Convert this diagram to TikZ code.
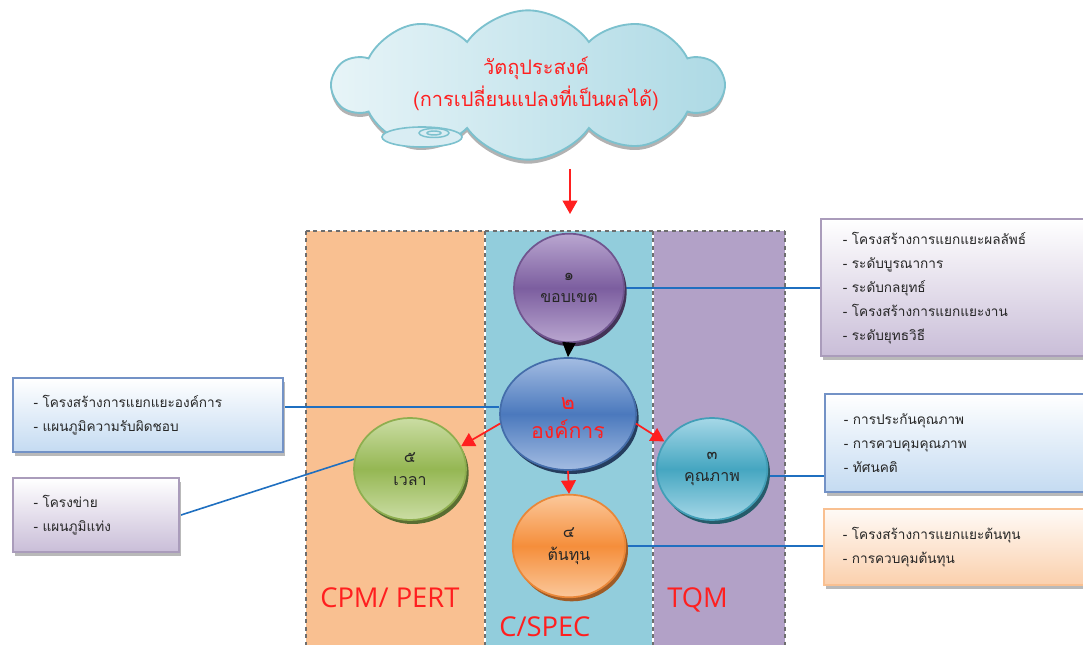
\documentclass[tikz,border=0pt]{standalone}
\usepackage{fontspec}
\setmainfont{Open Sans}
\newfontfamily\thai[Script=Thai]{Loma}
\usetikzlibrary{shapes.geometric,shapes.symbols,arrows.meta,shadows}

\definecolor{colPeach}{HTML}{F9C091}
\definecolor{colSky}{HTML}{92CDDC}
\definecolor{colLav}{HTML}{B2A1C7}
\definecolor{colRed}{HTML}{FF1F1F}
\definecolor{colLink}{HTML}{1F6FC0}
\definecolor{colDash}{HTML}{6E6E6E}

% glossy fills for the circles: light rim, darker band through the middle
\definecolor{gpLight}{HTML}{B9A6D0}\definecolor{gpMid}{HTML}{7C5E9F}
\definecolor{gbLight}{HTML}{A3BCE2}\definecolor{gbMid}{HTML}{4B79BD}
\definecolor{ggLight}{HTML}{CBDDA4}\definecolor{ggMid}{HTML}{95B753}
\definecolor{gtLight}{HTML}{A6D8E7}\definecolor{gtMid}{HTML}{45A6C1}
\definecolor{goLight}{HTML}{FBC89B}\definecolor{goMid}{HTML}{F58E3B}
\pgfdeclareverticalshading{glosspurple}{100bp}{color(0bp)=(gpLight); color(25bp)=(gpLight); color(50bp)=(gpMid); color(75bp)=(gpLight); color(100bp)=(gpLight)}
\pgfdeclareverticalshading{glossblue}{100bp}{color(0bp)=(gbLight); color(25bp)=(gbLight); color(50bp)=(gbMid); color(75bp)=(gbLight); color(100bp)=(gbLight)}
\pgfdeclareverticalshading{glossgreen}{100bp}{color(0bp)=(ggLight); color(25bp)=(ggLight); color(50bp)=(ggMid); color(75bp)=(ggLight); color(100bp)=(ggLight)}
\pgfdeclareverticalshading{glossteal}{100bp}{color(0bp)=(gtLight); color(25bp)=(gtLight); color(50bp)=(gtMid); color(75bp)=(gtLight); color(100bp)=(gtLight)}
\pgfdeclareverticalshading{glossorange}{100bp}{color(0bp)=(goLight); color(25bp)=(goLight); color(50bp)=(goMid); color(75bp)=(goLight); color(100bp)=(goLight)}

\pgfdeclarelayer{bg}
\pgfdeclarelayer{mid}
\pgfsetlayers{bg,mid,main}

\tikzset{
  ball/.style={ellipse, inner sep=0pt, align=center, line width=1.3pt,
    font=\thai\fontsize{12}{17}\selectfont, text=black!85},
  ballshadow/.style={drop shadow={shadow xshift=2pt, shadow yshift=-3pt, fill=#1, opacity=1}},
  infobox/.style={rectangle, anchor=north west, align=left, line width=1.8pt,
    font=\thai\fontsize{10.2}{18}\selectfont, text=black!85,
    drop shadow={shadow xshift=1.5pt, shadow yshift=-2.5pt, fill=gray!55, opacity=1}},
  redarrow/.style={draw=colRed, line width=1.3pt, -{Triangle[width=11pt,length=10pt]}},
  link/.style={draw=colLink, line width=1.2pt},
  colrule/.style={draw=colDash, line width=1.6pt, dash pattern=on 3pt off 2.6pt},
  bigred/.style={text=colRed, font=\fontsize{20.5}{24}\selectfont, inner sep=0pt}
}

\begin{document}
\begin{tikzpicture}[x=0.75pt,y=-0.75pt]
\useasboundingbox (0,0) rectangle (1083,645);

% three coloured columns
\begin{pgfonlayer}{bg}
\fill[colPeach] (306,231) rectangle (485,645);
\fill[colSky] (485,231) rectangle (653,645);
\fill[colLav] (653,231) rectangle (785,645);
\draw[white, line width=1.3pt] (485,232) -- (485,645) (653,232) -- (653,645);
\draw[colrule] (306,231) -- (785,231);
\foreach \cx in {306,485,653,785} \draw[colrule] (\cx,231) -- (\cx,645);
\end{pgfonlayer}

% column titles
\node[bigred, anchor=base west] (cpm) at (320,607) {CPM/ PERT};
\node[bigred, anchor=base west] (cspec) at (499,636) {C/SPEC};
\node[bigred, anchor=base west] (tqm) at (667,607) {TQM};

% goal cloud
\node[cloud, cloud puffs=10, cloud puff arc=110, cloud ignores aspect,
      minimum width=292pt, minimum height=112pt, line width=1.4pt,
      draw=colSky!85!teal, left color=colSky!22, right color=colSky!75,
      drop shadow={shadow xshift=0pt, shadow yshift=-3pt, fill=gray!60, opacity=1}]
      (goal) at (528,85) {};
\filldraw[draw=colSky!85!teal, line width=1.2pt, fill=colSky!35] (422,137) ellipse (40 and 10);
\draw[colSky!85!teal, line width=1.1pt] (434,133) ellipse (15 and 4.5) (434,133) ellipse (7 and 2);
\node[align=center, text=colRed, font=\thai\fontsize{15}{24}\selectfont] (goaltext) at (536,84)
  {วัตถุประสงค์\\(การเปลี่ยนแปลงที่เป็นผลได้)};

\coordinate (goalfoot) at (570,169);
\coordinate (scopetop) at (570,214);
\draw[redarrow] (goalfoot) -- (scopetop);

% side boxes
\node[infobox, draw=colLav!90!black!90, top color=white, bottom color=colLav!70,
      minimum width=202.5pt, minimum height=102.75pt, inner xsep=16pt, text width=170pt]
  (scopebox) at (820,218)
  {- โครงสร้างการแยกแยะผลลัพธ์\\- ระดับบูรณาการ\\- ระดับกลยุทธ์\\- โครงสร้างการแยกแยะงาน\\- ระดับยุทธวิธี};
\node[infobox, draw=blue!25!colSky!70!gray, top color=white, bottom color=blue!15!colSky!45,
      minimum width=202.5pt, minimum height=55.5pt, inner xsep=15pt, text width=172pt]
  (orgbox) at (12,377)
  {- โครงสร้างการแยกแยะองค์การ\\- แผนภูมิความรับผิดชอบ};
\node[infobox, draw=colLav!90!black!90, top color=white, bottom color=colLav!70,
      minimum width=124.5pt, minimum height=55.5pt, inner xsep=15pt, text width=94pt]
  (timebox) at (12,477)
  {- โครงข่าย\\- แผนภูมิแท่ง};
\node[infobox, draw=blue!25!colSky!70!gray, top color=white, bottom color=blue!15!colSky!45,
      minimum width=200pt, minimum height=73.5pt, inner xsep=13.5pt, text width=172pt]
  (qualbox) at (824,393)
  {- การประกันคุณภาพ\\- การควบคุมคุณภาพ\\- ทัศนคติ};
\node[infobox, draw=colPeach, top color=colPeach!8, bottom color=colPeach!75,
      minimum width=200pt, minimum height=57pt, inner xsep=13.5pt, text width=172pt]
  (costbox) at (823,508)
  {- โครงสร้างการแยกแยะต้นทุน\\- การควบคุมต้นทุน};

% circles
\node[ball, minimum width=82.5pt, minimum height=81.5pt, draw=gpMid!90!black,
      shading=glosspurple, ballshadow=gpMid!55!black]
  (scope) at (569,288) {๑\\ขอบเขต};
\node[ball, minimum width=102pt, minimum height=84pt, draw=gbMid!90!black,
      shading=glossblue, ballshadow=gbMid!50!black]
  (org) at (568,414) {};
\node[align=center, inner sep=0pt, text=colRed, font=\thai\fontsize{16}{22}\selectfont]
  (orgtext) at (568,418) {๒\\องค์การ};
\node[ball, minimum width=84pt, minimum height=76.5pt, draw=ggMid!95!black,
      shading=glossgreen, ballshadow=ggMid!60!black]
  (time) at (410,469) {๕\\เวลา};
\node[ball, minimum width=83pt, minimum height=76.5pt, draw=gtMid!95!black,
      shading=glossteal, ballshadow=gtMid!55!black]
  (quality) at (712,469) {๓\\คุณภาพ};
\node[ball, minimum width=84.5pt, minimum height=77pt, draw=goMid!95!black,
      shading=glossorange, ballshadow=goMid!65!black]
  (cost) at (569,546) {๔\\ต้นทุน};

% connectors to the side boxes, kept under the circles
\begin{pgfonlayer}{mid}
\draw[link] (scope.east) -- (scope.east -| scopebox.west);
\draw[link] ([yshift=6pt]orgbox.east) -- ([yshift=6pt]orgbox.east -| org.west);
\draw[link] (timebox.east) -- (time.170);
\draw[link] (quality.-7) -- (quality.-7 -| qualbox.west);
\draw[link] (cost.east) -- (cost.east -| costbox.west);
\end{pgfonlayer}

% arrows between the circles
\draw[draw=black, line width=0.8pt, -{Triangle[width=10pt,length=11pt]}] (scope.south) -- (org.north);
\draw[redarrow] (org.188) -- (time.24);
\draw[redarrow] (org.-8) -- (quality.150);
\draw[redarrow] (org.south) -- (cost.north);
\end{tikzpicture}
\end{document}
